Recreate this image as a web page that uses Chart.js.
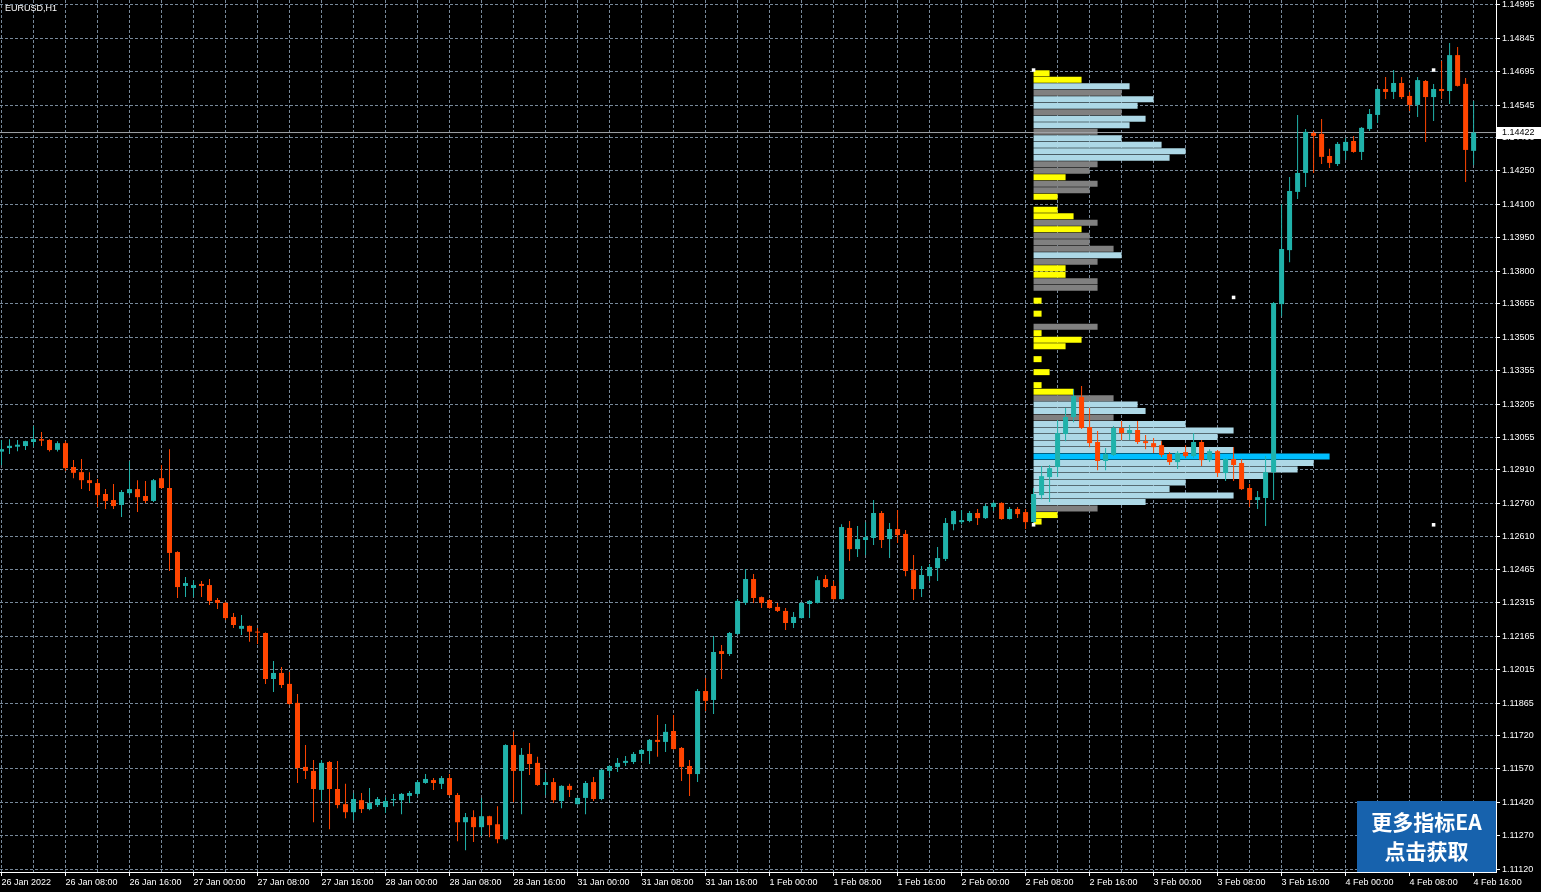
<!DOCTYPE html>
<html>
<head>
<meta charset="utf-8">
<title>EURUSD,H1</title>
<script src="https://cdn.jsdelivr.net/npm/chart.js@4.4.1/dist/chart.umd.min.js"></script>
<style>
  html, body { margin: 0; padding: 0; background: #000; overflow: hidden; }
</style>
</head>
<body>
<canvas id="chart" width="1541" height="892"></canvas>
<script>
// EURUSD H1, 26 Jan 2022 00:00 .. 4 Feb 2022 16:00 (one entry per bar)
const symbol = 'EURUSD,H1';

const timeLabels = [
  '26 Jan 2022', '26 Jan 08:00', '26 Jan 16:00', '27 Jan 00:00', '27 Jan 08:00', '27 Jan 16:00',
  '28 Jan 00:00', '28 Jan 08:00', '28 Jan 16:00', '31 Jan 00:00', '31 Jan 08:00', '31 Jan 16:00',
  '1 Feb 00:00', '1 Feb 08:00', '1 Feb 16:00', '2 Feb 00:00', '2 Feb 08:00', '2 Feb 16:00',
  '3 Feb 00:00', '3 Feb 08:00', '3 Feb 16:00', '4 Feb 00:00', '4 Feb 08:00', '4 Feb 16:00'
];

const priceTicks = [
  1.14995, 1.14845, 1.14695, 1.14545, 1.14400, 1.14250, 1.14100, 1.13950, 1.13800,
  1.13655, 1.13505, 1.13355, 1.13205, 1.13055, 1.12910, 1.12760, 1.12610, 1.12465,
  1.12315, 1.12165, 1.12015, 1.11865, 1.11720, 1.11570, 1.11420, 1.11270, 1.11120
];

const opens = [
  1.12992, 1.13008, 1.13014, 1.13017, 1.13035, 1.13048, 1.13044, 1.13000, 1.13030, 1.12923,
  1.12900, 1.12864, 1.12851, 1.12802, 1.12775, 1.12753, 1.12806, 1.12824, 1.12793, 1.12771,
  1.12873, 1.12829, 1.12542, 1.12390, 1.12381, 1.12399, 1.12394, 1.12327, 1.12314, 1.12251,
  1.12198, 1.12211, 1.12185, 1.12179, 1.11973, 1.12000, 1.11951, 1.11866, 1.11579, 1.11561,
  1.11476, 1.11601, 1.11480, 1.11412, 1.11376, 1.11430, 1.11390, 1.11408, 1.11399, 1.11430,
  1.11430, 1.11449, 1.11458, 1.11507, 1.11520, 1.11503, 1.11529, 1.11453, 1.11331, 1.11354,
  1.11309, 1.11358, 1.11322, 1.11255, 1.11677, 1.11561, 1.11637, 1.11597, 1.11498, 1.11511,
  1.11426, 1.11494, 1.11412, 1.11440, 1.11511, 1.11435, 1.11561, 1.11579, 1.11597, 1.11601,
  1.11637, 1.11650, 1.11700, 1.11691, 1.11740, 1.11664, 1.11583, 1.11547, 1.11919, 1.11879,
  1.12098, 1.12085, 1.12175, 1.12314, 1.12421, 1.12340, 1.12327, 1.12296, 1.12278, 1.12224,
  1.12246, 1.12309, 1.12314, 1.12421, 1.12390, 1.12331, 1.12650, 1.12555, 1.12596, 1.12605,
  1.12717, 1.12600, 1.12645, 1.12623, 1.12461, 1.12376, 1.12434, 1.12470, 1.12511, 1.12667,
  1.12676, 1.12681, 1.12717, 1.12694, 1.12744, 1.12762, 1.12690, 1.12735, 1.12721, 1.12676,
  1.12797, 1.12878, 1.12923, 1.13071, 1.13147, 1.13237, 1.13102, 1.13035, 1.12950, 1.12977,
  1.13098, 1.13075, 1.13089, 1.13039, 1.13030, 1.13021, 1.12981, 1.12945, 1.12990, 1.12972,
  1.13035, 1.12954, 1.12994, 1.12896, 1.12959, 1.12941, 1.12829, 1.12775, 1.12784, 1.12900,
  1.13653, 1.13895, 1.14156, 1.14241, 1.14420, 1.14416, 1.14317, 1.14281, 1.14340, 1.14384,
  1.14335, 1.14438, 1.14501, 1.14617, 1.14604, 1.14644, 1.14586, 1.14546, 1.14653, 1.14581,
  1.14617, 1.14608, 1.14769, 1.14640, 1.14340
];

const highs = [
  1.13044, 1.13047, 1.13044, 1.13041, 1.13107, 1.13080, 1.13047, 1.13039, 1.13039, 1.12954,
  1.12959, 1.12900, 1.12869, 1.12824, 1.12847, 1.12820, 1.12950, 1.12864, 1.12860, 1.12869,
  1.12932, 1.13003, 1.12545, 1.12430, 1.12416, 1.12412, 1.12421, 1.12336, 1.12318, 1.12269,
  1.12260, 1.12213, 1.12202, 1.12181, 1.12054, 1.12027, 1.12004, 1.11906, 1.11677, 1.11610,
  1.11610, 1.11606, 1.11606, 1.11503, 1.11462, 1.11462, 1.11485, 1.11444, 1.11444, 1.11458,
  1.11462, 1.11471, 1.11520, 1.11547, 1.11529, 1.11538, 1.11547, 1.11462, 1.11372, 1.11385,
  1.11440, 1.11360, 1.11403, 1.11680, 1.11736, 1.11664, 1.11686, 1.11624, 1.11552, 1.11529,
  1.11497, 1.11503, 1.11442, 1.11516, 1.11534, 1.11570, 1.11586, 1.11619, 1.11628, 1.11646,
  1.11659, 1.11704, 1.11812, 1.11771, 1.11812, 1.11668, 1.11610, 1.11928, 1.11977, 1.12166,
  1.12125, 1.12184, 1.12331, 1.12466, 1.12443, 1.12343, 1.12330, 1.12314, 1.12291, 1.12273,
  1.12317, 1.12327, 1.12434, 1.12439, 1.12412, 1.12667, 1.12681, 1.12659, 1.12676, 1.12775,
  1.12726, 1.12672, 1.12730, 1.12641, 1.12529, 1.12479, 1.12488, 1.12564, 1.12694, 1.12729,
  1.12730, 1.12726, 1.12735, 1.12757, 1.12766, 1.12765, 1.12744, 1.12744, 1.12735, 1.12829,
  1.12927, 1.12932, 1.13133, 1.13187, 1.13272, 1.13286, 1.13187, 1.13084, 1.13008, 1.13107,
  1.13129, 1.13111, 1.13129, 1.13066, 1.13053, 1.13039, 1.12990, 1.12994, 1.13021, 1.13075,
  1.13044, 1.13003, 1.12999, 1.12962, 1.13012, 1.12959, 1.12847, 1.12815, 1.12972, 1.13662,
  1.14102, 1.14223, 1.14501, 1.14438, 1.14429, 1.14483, 1.14349, 1.14380, 1.14398, 1.14407,
  1.14447, 1.14528, 1.14622, 1.14671, 1.14702, 1.14671, 1.14604, 1.14671, 1.14657, 1.14640,
  1.14743, 1.14823, 1.14805, 1.14666, 1.14563
];

const lows = [
  1.12932, 1.12981, 1.12994, 1.12999, 1.13014, 1.13017, 1.12992, 1.12992, 1.12906, 1.12873,
  1.12824, 1.12815, 1.12744, 1.12735, 1.12735, 1.12699, 1.12797, 1.12721, 1.12762, 1.12766,
  1.12824, 1.12457, 1.12336, 1.12340, 1.12340, 1.12340, 1.12305, 1.12287, 1.12237, 1.12202,
  1.12170, 1.12140, 1.12130, 1.11951, 1.11915, 1.11933, 1.11858, 1.11507, 1.11525, 1.11331,
  1.11426, 1.11300, 1.11394, 1.11349, 1.11340, 1.11372, 1.11385, 1.11399, 1.11372, 1.11403,
  1.11367, 1.11417, 1.11449, 1.11503, 1.11476, 1.11480, 1.11450, 1.11246, 1.11206, 1.11242,
  1.11269, 1.11264, 1.11237, 1.11250, 1.11421, 1.11367, 1.11543, 1.11494, 1.11453, 1.11417,
  1.11394, 1.11444, 1.11410, 1.11367, 1.11426, 1.11430, 1.11534, 1.11556, 1.11583, 1.11592,
  1.11606, 1.11592, 1.11624, 1.11646, 1.11656, 1.11516, 1.11449, 1.11511, 1.11830, 1.11816,
  1.11973, 1.12076, 1.12170, 1.12305, 1.12314, 1.12291, 1.12288, 1.12273, 1.12193, 1.12202,
  1.12244, 1.12246, 1.12311, 1.12381, 1.12328, 1.12328, 1.12502, 1.12520, 1.12529, 1.12573,
  1.12560, 1.12515, 1.12582, 1.12434, 1.12327, 1.12340, 1.12412, 1.12412, 1.12502, 1.12640,
  1.12667, 1.12676, 1.12663, 1.12690, 1.12726, 1.12687, 1.12688, 1.12694, 1.12645, 1.12672,
  1.12779, 1.12766, 1.12878, 1.13039, 1.13124, 1.13093, 1.13012, 1.12909, 1.12909, 1.12972,
  1.13044, 1.13044, 1.13026, 1.13003, 1.12986, 1.12968, 1.12932, 1.12914, 1.12963, 1.12963,
  1.12927, 1.12945, 1.12878, 1.12860, 1.12860, 1.12820, 1.12744, 1.12735, 1.12659, 1.12775,
  1.13599, 1.13841, 1.14124, 1.14178, 1.14241, 1.14281, 1.14263, 1.14272, 1.14299, 1.14331,
  1.14299, 1.14429, 1.14465, 1.14572, 1.14572, 1.14572, 1.14519, 1.14492, 1.14380, 1.14474,
  1.14572, 1.14550, 1.14628, 1.14200, 1.14277
];

const closes = [
  1.13003, 1.13018, 1.13023, 1.13039, 1.13048, 1.13041, 1.12999, 1.13030, 1.12918, 1.12897,
  1.12864, 1.12851, 1.12797, 1.12771, 1.12748, 1.12811, 1.12824, 1.12788, 1.12771, 1.12864,
  1.12829, 1.12538, 1.12385, 1.12403, 1.12394, 1.12390, 1.12323, 1.12314, 1.12246, 1.12215,
  1.12211, 1.12185, 1.12181, 1.11973, 1.12000, 1.11946, 1.11861, 1.11574, 1.11561, 1.11480,
  1.11597, 1.11480, 1.11408, 1.11376, 1.11435, 1.11390, 1.11417, 1.11435, 1.11426, 1.11435,
  1.11458, 1.11462, 1.11511, 1.11525, 1.11507, 1.11529, 1.11453, 1.11331, 1.11354, 1.11309,
  1.11358, 1.11318, 1.11255, 1.11677, 1.11561, 1.11633, 1.11592, 1.11498, 1.11511, 1.11430,
  1.11494, 1.11476, 1.11440, 1.11507, 1.11435, 1.11566, 1.11583, 1.11597, 1.11606, 1.11637,
  1.11655, 1.11700, 1.11691, 1.11736, 1.11659, 1.11579, 1.11547, 1.11919, 1.11875, 1.12094,
  1.12085, 1.12179, 1.12323, 1.12421, 1.12336, 1.12314, 1.12291, 1.12278, 1.12224, 1.12251,
  1.12314, 1.12323, 1.12416, 1.12385, 1.12331, 1.12654, 1.12555, 1.12600, 1.12609, 1.12717,
  1.12596, 1.12645, 1.12618, 1.12457, 1.12376, 1.12439, 1.12475, 1.12515, 1.12672, 1.12726,
  1.12685, 1.12717, 1.12694, 1.12748, 1.12762, 1.12690, 1.12735, 1.12712, 1.12676, 1.12802,
  1.12882, 1.12918, 1.13075, 1.13147, 1.13241, 1.13098, 1.13030, 1.12950, 1.12981, 1.13098,
  1.13075, 1.13089, 1.13035, 1.13030, 1.13012, 1.12977, 1.12945, 1.12986, 1.12972, 1.13035,
  1.12954, 1.12994, 1.12896, 1.12959, 1.12932, 1.12824, 1.12775, 1.12788, 1.12900, 1.13658,
  1.13900, 1.14160, 1.14241, 1.14425, 1.14407, 1.14313, 1.14286, 1.14371, 1.14380, 1.14335,
  1.14443, 1.14505, 1.14617, 1.14604, 1.14644, 1.14581, 1.14546, 1.14657, 1.14581, 1.14617,
  1.14608, 1.14769, 1.14631, 1.14344, 1.14422
];

const bid = 1.14422;

// volume profile: bars 129 (2 Feb 08:00) .. 179, rows from top to bottom
const profileStartBar = 129;
const profileEndBar = 179;
const profileHigh = 1.14702;
const profileLow = 1.12664;
const profileVolume = [
  2, 6, 12, 11, 15, 13, 11, 14, 12, 8,
  11, 16, 19, 17, 8, 7, 4, 8, 7, 3,
  0, 3, 5, 8, 6, 7, 7, 10, 11, 8,
  4, 4, 8, 8, 0, 1, 0, 1, 0, 8,
  1, 6, 4, 0, 1, 0, 2, 0, 1, 5,
  10, 13, 14, 10, 19, 25, 23, 16, 25, 37,
  35, 33, 29, 19, 17, 25, 14, 8, 3, 1
];
// Y = low volume, G = outside value area, L = value area, P = point of control
const profileTone = [
  'Y', 'Y', 'L', 'G', 'L', 'L', 'G', 'L', 'L', 'G',
  'L', 'L', 'L', 'L', 'G', 'G', 'Y', 'G', 'G', 'Y',
  '-', 'Y', 'Y', 'G', 'Y', 'G', 'G', 'G', 'L', 'G',
  'Y', 'Y', 'G', 'G', '-', 'Y', '-', 'Y', '-', 'G',
  'Y', 'Y', 'Y', '-', 'Y', '-', 'Y', '-', 'Y', 'Y',
  'G', 'L', 'L', 'G', 'L', 'L', 'L', 'L', 'L', 'P',
  'L', 'L', 'L', 'L', 'L', 'L', 'L', 'G', 'Y', 'Y'
];

const bannerLines = ['更多指标EA', '点击获取'];

// ---------------------------------------------------------------

const BULL = '#20b2aa';
const BEAR = '#ff4500';
const GRID = '#778899';
const toneColor = { Y: '#ffff00', G: '#808080', L: '#add8e6', P: '#00bfff' };

const xMin = -0.1875;
const xMax = 186.8;
const yMin = 1.11108;
const yMax = 1.15016;
const gridEvery = 4;
const labelEvery = 8;

const candleColors = closes.map((c, i) => (c >= opens[i] ? BULL : BEAR));

const rowStep = (profileHigh - profileLow) / profileVolume.length;
const profileData = [];
const profileColors = [];
profileVolume.forEach((v, i) => {
  if (!v) return;
  profileData.push({ x: [profileStartBar, profileStartBar + v], y: profileHigh - rowStep * (i + 0.5) });
  profileColors.push(toneColor[profileTone[i]]);
});

const handles = [
  { x: profileStartBar, y: profileHigh },
  { x: profileStartBar, y: profileLow },
  { x: profileEndBar, y: profileHigh },
  { x: profileEndBar, y: profileLow },
  { x: (profileStartBar + profileEndBar) / 2, y: (profileHigh + profileLow) / 2 }
];

const overlay = {
  id: 'overlay',
  afterDraw(chart) {
    const { ctx, chartArea, scales } = chart;
    ctx.save();
    ctx.textBaseline = 'middle';

    ctx.fillStyle = '#ffffff';
    ctx.font = '9px "Liberation Sans"';
    ctx.fillText(symbol, chartArea.left + 5, chartArea.top + 9);

    // current price label on the price axis
    const yb = Math.round(scales.y.getPixelForValue(bid));
    ctx.fillRect(chartArea.right + 1, yb - 6, 44, 12);
    ctx.fillStyle = '#000000';
    ctx.fillText(bid.toFixed(5), chartArea.right + 6, yb);

    // banner
    const bw = 139, bh = 71;
    const bx = chartArea.right - bw, by = chartArea.bottom - bh;
    ctx.fillStyle = '#1762ad';
    ctx.fillRect(bx, by, bw, bh);
    ctx.fillStyle = '#ffffff';
    ctx.textAlign = 'center';
    ctx.font = 'bold 21px "Noto Sans CJK SC"';
    ctx.fillText(bannerLines[0], bx + bw / 2, by + 21);
    ctx.fillText(bannerLines[1], bx + bw / 2, by + 50);
    ctx.restore();
  }
};

new Chart(document.getElementById('chart'), {
  type: 'bar',
  data: {
    datasets: [
      {
        type: 'scatter',
        data: handles,
        pointStyle: 'rect',
        pointRadius: 2.5,
        backgroundColor: '#ffffff',
        borderWidth: 0,
        order: 0
      },
      {
        label: 'body',
        data: opens.map((o, i) => ({ x: i, y: [o, closes[i]] })),
        backgroundColor: candleColors,
        barThickness: 5,
        minBarLength: 1,
        inflateAmount: 0,
        grouped: false,
        order: 1
      },
      {
        label: 'wick',
        data: lows.map((l, i) => ({ x: i, y: [l, highs[i]] })),
        backgroundColor: candleColors,
        barThickness: 1,
        inflateAmount: 0,
        grouped: false,
        order: 2
      },
      {
        type: 'line',
        data: [{ x: xMin, y: bid }, { x: xMax, y: bid }],
        borderColor: '#a0a4a8',
        borderWidth: 1,
        pointRadius: 0,
        order: 3
      },
      {
        label: 'profile',
        indexAxis: 'y',
        data: profileData,
        backgroundColor: profileColors,
        barThickness: 6,
        inflateAmount: 0,
        grouped: false,
        order: 4
      }
    ]
  },
  options: {
    responsive: false,
    animation: false,
    devicePixelRatio: 1,
    events: [],
    layout: { padding: 0, autoPadding: false },
    plugins: {
      legend: { display: false },
      tooltip: { enabled: false }
    },
    scales: {
      x: {
        type: 'linear',
        min: xMin,
        max: xMax,
        offset: false,
        bounds: 'data',
        afterBuildTicks: (s) => {
          const t = [];
          for (let v = 0; v <= xMax; v += gridEvery) t.push({ value: v });
          s.ticks = t;
        },
        afterFit: (s) => { s.height = 20; s.paddingLeft = 0; s.paddingRight = 0; },
        grid: {
          color: GRID,
          offset: false,
          tickLength: 4,
          tickColor: (c) => (c.tick && c.tick.value % labelEvery === 0 ? '#ffffff' : 'rgba(0,0,0,0)')
        },
        border: { display: true, color: '#ffffff', dash: [3, 2] },
        ticks: {
          autoSkip: false,
          maxRotation: 0,
          align: 'start',
          padding: 1,
          color: '#ffffff',
          font: { family: 'Liberation Sans', size: 9 },
          callback: (v) => (v % labelEvery === 0 ? timeLabels[v / labelEvery] : '')
        }
      },
      y: {
        type: 'linear',
        position: 'right',
        min: yMin,
        max: yMax,
        offset: false,
        bounds: 'data',
        afterBuildTicks: (s) => { s.ticks = priceTicks.map((v) => ({ value: v })); },
        afterFit: (s) => { s.width = 45; s.paddingTop = 0; s.paddingBottom = 0; },
        grid: { color: GRID, offset: false, tickLength: 4, tickColor: '#ffffff' },
        border: { display: true, color: '#ffffff', dash: [3, 2] },
        ticks: {
          autoSkip: false,
          padding: 2,
          color: '#ffffff',
          font: { family: 'Liberation Sans', size: 9 },
          callback: (v) => v.toFixed(5)
        }
      }
    }
  },
  plugins: [overlay]
});
</script>
</body>
</html>
